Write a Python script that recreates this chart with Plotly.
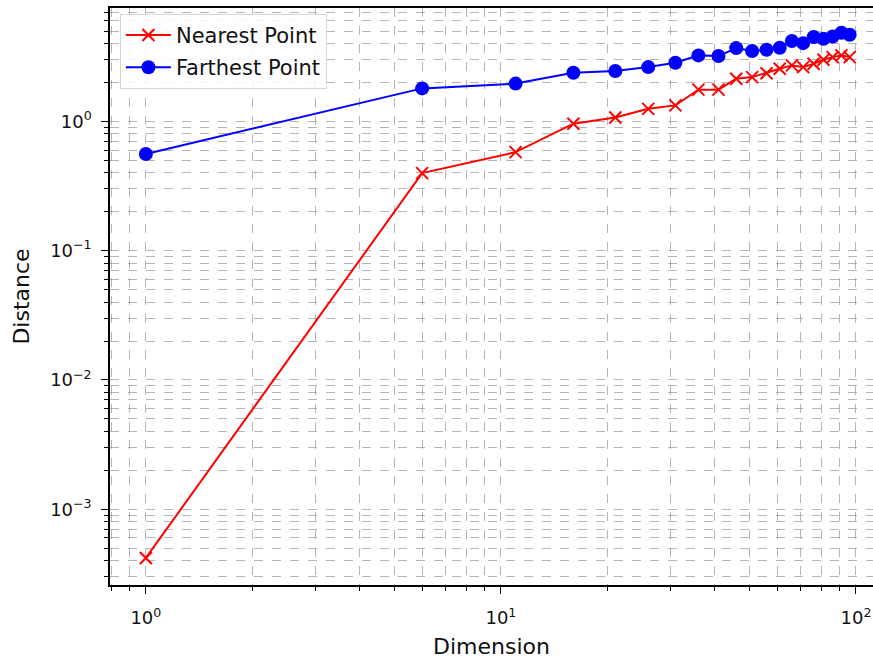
import numpy as np
import plotly.graph_objects as go

dimensions = [1, 6, 11, 16, 21, 26, 31, 36, 41, 46, 51, 56, 61, 66, 71, 76, 81, 86, 91, 96]
nearest = [0.00042, 0.398, 0.578, 0.96, 1.07, 1.25, 1.33, 1.76, 1.76, 2.14, 2.20, 2.36,
           2.55, 2.71, 2.63, 2.79, 3.00, 3.14, 3.24, 3.14]
farthest = [0.56, 1.80, 1.96, 2.38, 2.45, 2.63, 2.84, 3.24, 3.20, 3.69, 3.50, 3.58,
            3.71, 4.18, 4.03, 4.49, 4.36, 4.54, 4.85, 4.68]

x_major = [1, 10, 100]
x_major_text = ["10<sup>0</sup>", "10<sup>1</sup>", "10<sup>2</sup>"]
y_major = [0.001, 0.01, 0.1, 1]
y_major_text = ["10<sup>−3</sup>", "10<sup>−2</sup>", "10<sup>−1</sup>", "10<sup>0</sup>"]

x_minor = [m * 10 ** e for e in range(-1, 3) for m in range(2, 10)]
y_minor = [m * 10 ** e for e in range(-4, 2) for m in range(2, 10)]

fig = go.Figure()
fig.add_trace(go.Scatter(x=dimensions, y=nearest, mode="lines+markers", name="Nearest Point",
                         legendgroup="a",
                         line=dict(color="#ff0000", width=2),
                         marker=dict(symbol="x-thin", size=12, line=dict(color="#ff0000", width=2), color="#ff0000")))
fig.add_trace(go.Scatter(x=dimensions, y=farthest, mode="lines+markers", name="Farthest Point",
                         legendgroup="b",
                         line=dict(color="#0000ff", width=2),
                         marker=dict(symbol="circle", size=14, color="#0000ff")))

grid_col = "rgba(150,150,150,0.7)"
fig.update_layout(
    width=873, height=659,
    margin=dict(l=110, r=0, t=8, b=74),
    paper_bgcolor="white", plot_bgcolor="white",
    font=dict(family="DejaVu Sans", size=18, color="#111111"),
    showlegend=True,
    legend=dict(x=0.013, y=0.99, xanchor="left", yanchor="top",
                bgcolor="rgba(255,255,255,0.85)", bordercolor="#d6d6d6", borderwidth=1,
                font=dict(size=21), itemwidth=45, tracegroupgap=2),
    xaxis=dict(type="log", range=[-0.101, 2.048], automargin=False,
               title=dict(text="Dimension", standoff=12),
               tickmode="array", tickvals=x_major, ticktext=x_major_text,
               ticklabelstandoff=9,
               showline=True, linecolor="black", linewidth=1.5, mirror=True,
               ticks="outside", ticklen=7, tickcolor="black",
               showgrid=True, gridcolor=grid_col, griddash="dash", gridwidth=1, zeroline=False,
               minor=dict(tickmode="array", tickvals=x_minor, ticks="outside", ticklen=4,
                          tickcolor="black", showgrid=True, gridcolor=grid_col, griddash="dash", gridwidth=1)),
    yaxis=dict(type="log", range=[-3.586, 0.877], automargin=False,
               title=dict(text="Distance", standoff=14),
               tickmode="array", tickvals=y_major, ticktext=y_major_text,
               ticklabelstandoff=6,
               showline=True, linecolor="black", linewidth=1.5, mirror=False,
               ticks="outside", ticklen=7, tickcolor="black",
               showgrid=True, gridcolor=grid_col, griddash="dash", gridwidth=1, zeroline=False,
               minor=dict(tickmode="array", tickvals=y_minor, ticks="outside", ticklen=4,
                          tickcolor="black", showgrid=True, gridcolor=grid_col, griddash="dash", gridwidth=1)),
)

fig.write_html("out.html", config={"displayModeBar": False},
               post_script="document.body.style.margin='0px';")
